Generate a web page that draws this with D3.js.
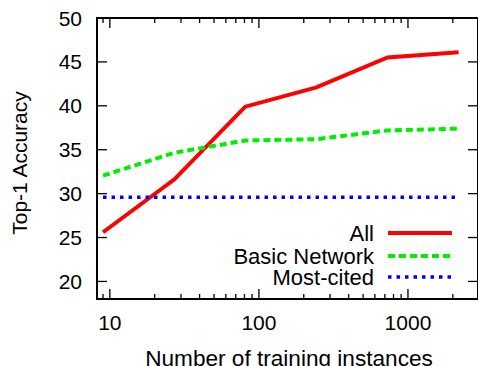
<!DOCTYPE html>
<html>
<head>
<meta charset="utf-8">
<script src="https://cdn.jsdelivr.net/npm/d3@7"></script>
<style>
  body { margin: 0; background: #fff; }
  text { font-family: "Liberation Sans", Arial, sans-serif; fill: #000; }
</style>
</head>
<body>
<div class="chart"></div>
<script>
// training set sizes (powers of 3)
const INSTANCES = [9, 27, 81, 243, 729, 2187];

const ALL = [25.6, 31.6, 39.9, 42.1, 45.5, 46.1];
const BASIC_NETWORK = [32.05, 34.65, 36.05, 36.2, 37.2, 37.4];
const MOST_CITED = [29.6, 29.6, 29.6, 29.6, 29.6, 29.6];

const SERIES_NAMES = ["All", "Basic Network", "Most-cited"];
const X_TICKS = [10, 100, 1000];
const Y_TICKS = [20, 25, 30, 35, 40, 45, 50];

const width = 478, height = 366;
const plot = { left: 97, right: 478, top: 18, bottom: 299 };

const svg = d3.select(".chart").append("svg")
  .attr("width", width)
  .attr("height", height);

const xScale = d3.scaleLog().domain([8.2, 2950]).range([plot.left, plot.right]);
const yScale = d3.scaleLinear().domain([18, 50]).range([plot.bottom, plot.top]);

// minor ticks for the log axis: 2..9 in each decade
let minorTicks = [];
[1, 10, 100, 1000].forEach(function (dec) {
  for (let k = 2; k <= 9; k++) {
    const v = k * dec;
    if (v >= 8.2 && v <= 2950) minorTicks.push(v);
  }
});

const styles = [
  { color: "#ff0000", dash: null, width: 4 },
  { color: "#00ee00", dash: "7,4", width: 4 },
  { color: "#0000ff", dash: "3.5,5", width: 3.5 },
];
const seriesData = [ALL, BASIC_NETWORK, MOST_CITED];

svg.append("defs").append("clipPath").attr("id", "clip")
  .append("rect")
  .attr("x", plot.left).attr("y", plot.top)
  .attr("width", plot.right - plot.left).attr("height", plot.bottom - plot.top);

const line = d3.line()
  .x(d => xScale(d[0]))
  .y(d => yScale(d[1]));

svg.append("g").attr("clip-path", "url(#clip)")
  .selectAll("path")
  .data(seriesData)
  .join("path")
  .attr("d", vals => line(INSTANCES.map((x, i) => [x, vals[i]])))
  .attr("fill", "none")
  .attr("stroke", (d, i) => styles[i].color)
  .attr("stroke-width", (d, i) => styles[i].width)
  .attr("stroke-dasharray", (d, i) => styles[i].dash)
  .attr("stroke-linejoin", "miter");

// inward ticks on all four sides
const ticks = svg.append("g").attr("stroke", "#000").attr("stroke-width", 1.3);
X_TICKS.forEach(function (t) {
  const x = xScale(t);
  ticks.append("line").attr("x1", x).attr("x2", x).attr("y1", plot.bottom).attr("y2", plot.bottom - 10);
  ticks.append("line").attr("x1", x).attr("x2", x).attr("y1", plot.top).attr("y2", plot.top + 10);
});
minorTicks.forEach(function (t) {
  const x = xScale(t);
  ticks.append("line").attr("x1", x).attr("x2", x).attr("y1", plot.bottom).attr("y2", plot.bottom - 5);
  ticks.append("line").attr("x1", x).attr("x2", x).attr("y1", plot.top).attr("y2", plot.top + 5);
});
Y_TICKS.forEach(function (t) {
  const y = yScale(t);
  ticks.append("line").attr("x1", plot.left).attr("x2", plot.left + 10).attr("y1", y).attr("y2", y);
  ticks.append("line").attr("x1", plot.right).attr("x2", plot.right - 10).attr("y1", y).attr("y2", y);
});

// frame
svg.append("rect")
  .attr("x", plot.left).attr("y", plot.top)
  .attr("width", plot.right - plot.left).attr("height", plot.bottom - plot.top)
  .attr("fill", "none").attr("stroke", "#000").attr("stroke-width", 2);

// tick labels
svg.append("g").selectAll("text")
  .data(Y_TICKS)
  .join("text")
  .attr("x", 82)
  .attr("y", d => yScale(d))
  .attr("dy", "0.36em")
  .attr("text-anchor", "end")
  .attr("font-size", 21)
  .text(d => d);

svg.append("g").selectAll("text")
  .data(X_TICKS)
  .join("text")
  .attr("x", d => xScale(d))
  .attr("y", 330)
  .attr("text-anchor", "middle")
  .attr("font-size", 21)
  .text(d => d);

// axis titles
svg.append("text")
  .attr("x", 289)
  .attr("y", 366)
  .attr("text-anchor", "middle")
  .attr("font-size", 22.6)
  .text("Number of training instances");

svg.append("text")
  .attr("transform", "translate(27, 163) rotate(-90)")
  .attr("text-anchor", "middle")
  .attr("font-size", 21)
  .text("Top-1 Accuracy");

// legend
const legendRows = [233, 256, 277];
const legend = svg.append("g").selectAll("g")
  .data(SERIES_NAMES)
  .join("g");
legend.append("text")
  .attr("x", 374)
  .attr("y", (d, i) => legendRows[i])
  .attr("dy", "0.36em")
  .attr("text-anchor", "end")
  .attr("font-size", 22)
  .text(d => d);
legend.append("line")
  .attr("x1", 388).attr("x2", 452)
  .attr("y1", (d, i) => legendRows[i]).attr("y2", (d, i) => legendRows[i])
  .attr("stroke", (d, i) => styles[i].color)
  .attr("stroke-width", (d, i) => styles[i].width)
  .attr("stroke-dasharray", (d, i) => styles[i].dash);
</script>
</body>
</html>
